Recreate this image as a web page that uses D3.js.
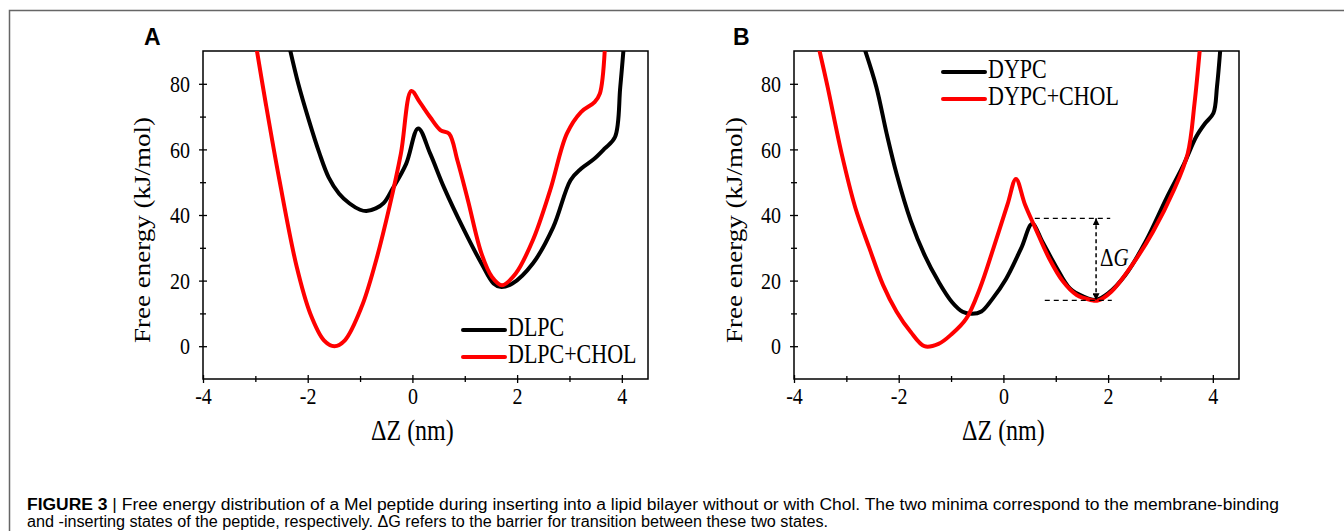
<!DOCTYPE html>
<html lang="en">
<head>
  <meta charset="UTF-8">
  <title>Figure 3</title>
  <style>
    body { margin: 0; background: #fff; }
    .serif { font-family: 'Liberation Serif', 'Times New Roman', serif; }
    .tick text { font-family: 'Liberation Serif', 'Times New Roman', serif; font-size: 20px; fill: #000; }
  </style>
</head>
<body>
  <svg width="1344" height="531"></svg>
  <script src="https://cdn.jsdelivr.net/npm/d3@7"></script>
  <script>
    // axis ticks
    var xTicks = [-4, -2, 0, 2, 4]
    var xMinor = [-3, -1, 1, 3]
    var yTicks = [0, 20, 40, 60, 80]
    var yMinor = [10, 30, 50, 70]

    // panel A series  [dZ (nm), free energy (kJ/mol)]
    var dlpc = [[-2.36, 92], [-2.18, 80], [-1.98, 69], [-1.78, 59], [-1.6, 51.5], [-1.4, 46.5], [-1.2, 43.5],
      [-1.0, 41.6], [-0.88, 41.2], [-0.7, 42], [-0.55, 43.6], [-0.38, 48], [-0.12, 55.6], [0.11, 66.4],
      [0.34, 58.7], [0.6, 48.5], [0.99, 35.3], [1.32, 25.2], [1.55, 19.1], [1.68, 18.1], [1.91, 19.1],
      [2.3, 25.2], [2.69, 36.3], [3.02, 50.6], [3.22, 54.1], [3.48, 57.2], [3.67, 60.2], [3.87, 63.8],
      [3.97, 79], [4.04, 92]]
    var dlpcChol = [[-2.99, 92], [-2.8, 73.9], [-2.54, 50.6], [-2.21, 24.2], [-1.95, 9.9], [-1.69, 1.8],
      [-1.49, 0], [-1.29, 1.8], [-0.97, 12], [-0.71, 25.2], [-0.44, 42.4], [-0.22, 58.7], [-0.02, 77.8],
      [0.14, 74.4], [0.34, 69.8], [0.54, 65.8], [0.7, 64.8], [0.86, 56.6], [1.06, 44.5], [1.32, 28.2],
      [1.52, 21.1], [1.71, 18.6], [1.97, 22.1], [2.3, 32.3], [2.63, 47.5], [2.95, 64.8], [3.22, 71.4],
      [3.48, 74.4], [3.58, 77], [3.68, 92]]

    // panel B series
    var dypc = [[-2.68, 92], [-2.43, 79.2], [-2.23, 64.8], [-2.04, 52.5], [-1.77, 38.2], [-1.51, 27.9],
      [-1.24, 19.7], [-0.98, 13.4], [-0.78, 10.5], [-0.6, 9.9], [-0.42, 10.6], [-0.22, 14.2], [0.05, 20.5],
      [0.34, 29.9], [0.55, 37.3], [0.74, 32], [1.0, 24.4], [1.27, 17.6], [1.53, 15.1], [1.76, 14.1],
      [2.0, 16.1], [2.33, 21.7], [2.72, 32], [3.12, 45.3], [3.45, 55.6], [3.68, 63.8], [3.85, 67.9],
      [4.01, 71], [4.08, 79.2], [4.15, 92]]
    var dypcChol = [[-3.54, 92], [-3.36, 79.2], [-3.09, 58.7], [-2.83, 42.3], [-2.56, 29.9], [-2.3, 18.7],
      [-2.04, 10.5], [-1.77, 4.3], [-1.51, 0], [-1.24, 0.7], [-0.98, 3.8], [-0.71, 8.4], [-0.45, 17.6],
      [-0.19, 29.9], [0.08, 43.3], [0.24, 51], [0.41, 43.3], [0.61, 36], [0.87, 26.9], [1.14, 19.7],
      [1.4, 15.6], [1.67, 14.1], [1.8, 13.9], [2.06, 16.6], [2.46, 24.8], [2.86, 35], [3.25, 47.4],
      [3.52, 58.7], [3.65, 74], [3.76, 92]]

    // barrier annotation in panel B
    var dgTop = 39, dgBottom = 14, dgX = 1.77

    var stretch = 1.2   // the original figure text is a bit tall
    var svg = d3.select('svg')

    // outer frame (top and left only)
    svg.append('path')
      .attr('d', 'M9.5,531V10.5H1344')
      .attr('fill', 'none')
      .attr('stroke', '#666')
      .attr('stroke-width', 1.5)

    var defs = svg.append('defs')
    defs.append('marker')
      .attr('id', 'arrow')
      .attr('viewBox', '0 0 10 10')
      .attr('refX', 10).attr('refY', 5)
      .attr('markerWidth', 7).attr('markerHeight', 7)
      .attr('markerUnits', 'userSpaceOnUse')
      .attr('orient', 'auto-start-reverse')
      .append('path')
      .attr('d', 'M0,0L10,5L0,10z')
      .attr('fill', '#000')

    function tallText(g, x, y, str, size, anchor) {
      return g.append('text')
        .attr('class', 'serif')
        .attr('transform', 'translate(' + x + ',' + y + ') scale(1,' + stretch + ')')
        .attr('font-size', size)
        .attr('text-anchor', anchor || 'start')
        .text(str)
    }

    function plain(d) { return String(d) }

    function drawPanel(p) {
      var x = d3.scaleLinear().domain([-4, 4.5]).range([p.left, p.right])
      var y = d3.scaleLinear().domain([-10, 90]).range([379, 51])
      var g = svg.append('g')

      defs.append('clipPath').attr('id', 'clip' + p.name)
        .append('rect')
        .attr('x', p.left).attr('y', 51)
        .attr('width', p.right - p.left).attr('height', 328)

      // minor ticks
      var minX = g.append('g').attr('transform', 'translate(0,379)')
        .call(d3.axisBottom(x).tickValues(xMinor).tickSize(3).tickFormat(''))
      minX.selectAll('line').attr('y1', -3)
      var minY = g.append('g').attr('transform', 'translate(' + p.left + ',0)')
        .call(d3.axisLeft(y).tickValues(yMinor).tickSize(3).tickFormat(''))
      minY.selectAll('line').attr('x1', 3)

      // major ticks
      var ax = g.append('g').attr('transform', 'translate(0,379)')
        .call(d3.axisBottom(x).tickValues(xTicks).tickSize(4).tickPadding(8).tickFormat(plain))
      ax.selectAll('line').attr('y1', -4)
      ax.selectAll('text')
        .attr('y', 0)
        .attr('transform', 'translate(0,8) scale(1,' + stretch + ')')
      var ay = g.append('g').attr('transform', 'translate(' + p.left + ',0)')
        .call(d3.axisLeft(y).tickValues(yTicks).tickSize(4).tickPadding(9).tickFormat(plain))
      ay.selectAll('line').attr('x1', 4)
      ay.selectAll('text').attr('transform', 'scale(1,' + stretch + ')')
      g.selectAll('.domain').remove()
      g.selectAll('.tick line').attr('stroke', '#000').attr('stroke-width', 1.3)

      // plot frame
      g.append('rect')
        .attr('x', p.left).attr('y', 51)
        .attr('width', p.right - p.left).attr('height', 328)
        .attr('fill', 'none').attr('stroke', '#000').attr('stroke-width', 1.5)

      var line = d3.line()
        .x(function(d) { return x(d[0]) })
        .y(function(d) { return y(d[1]) })
        .curve(d3.curveCatmullRom.alpha(0.5))

      var lines = g.append('g').attr('clip-path', 'url(#clip' + p.name + ')')
      p.series.forEach(function(s) {
        lines.append('path')
          .attr('d', line(s.data))
          .attr('fill', 'none')
          .attr('stroke', s.color)
          .attr('stroke-width', 4)
          .attr('stroke-linejoin', 'round')
      })

      // legend
      p.series.forEach(function(s, i) {
        var ly = p.legendY + i * 27
        g.append('line')
          .attr('x1', p.legendX).attr('x2', p.legendX + 42)
          .attr('y1', ly).attr('y2', ly)
          .attr('stroke', s.color).attr('stroke-width', 4)
          .attr('stroke-linecap', 'round')
        tallText(g, p.legendX + 45, ly + 6, s.name, 22)
      })

      // axis titles
      tallText(g, x(0), 440, '\u0394Z (nm)', 24, 'middle')
      g.append('text')
        .attr('class', 'serif')
        .attr('transform', 'translate(' + p.yLabelX + ',230) rotate(-90)')
        .attr('font-size', 24)
        .attr('text-anchor', 'middle')
        .attr('textLength', 226)
        .attr('lengthAdjust', 'spacingAndGlyphs')
        .text('Free energy (kJ/mol)')

      // panel letter
      g.append('text')
        .attr('x', p.letterX).attr('y', 45)
        .attr('font-family', 'Arial, Liberation Sans, sans-serif')
        .attr('font-weight', 'bold')
        .attr('font-size', 23)
        .text(p.name)

      return { g: g, x: x, y: y }
    }

    drawPanel({
      name: 'A', left: 203, right: 648, letterX: 144, yLabelX: 150,
      legendX: 463, legendY: 330,
      series: [{ name: 'DLPC', color: '#000', data: dlpc }, { name: 'DLPC+CHOL', color: '#ff0000', data: dlpcChol }]
    })

    var pb = drawPanel({
      name: 'B', left: 794, right: 1239, letterX: 733, yLabelX: 742,
      legendX: 943, legendY: 72,
      series: [{ name: 'DYPC', color: '#000', data: dypc }, { name: 'DYPC+CHOL', color: '#ff0000', data: dypcChol }]
    })

    // delta G annotation
    var dash = '5,4'
    pb.g.append('line')
      .attr('x1', pb.x(0.6)).attr('x2', pb.x(2.04))
      .attr('y1', pb.y(dgTop)).attr('y2', pb.y(dgTop))
      .attr('stroke', '#000').attr('stroke-width', 1.3).attr('stroke-dasharray', dash)
    pb.g.append('line')
      .attr('x1', pb.x(0.79)).attr('x2', pb.x(2.07))
      .attr('y1', pb.y(dgBottom)).attr('y2', pb.y(dgBottom))
      .attr('stroke', '#000').attr('stroke-width', 1.3).attr('stroke-dasharray', dash)
    pb.g.append('line')
      .attr('x1', pb.x(dgX)).attr('x2', pb.x(dgX))
      .attr('y1', pb.y(dgTop)).attr('y2', pb.y(dgBottom))
      .attr('stroke', '#000').attr('stroke-width', 1.5).attr('stroke-dasharray', '4,3')
      .attr('marker-start', 'url(#arrow)').attr('marker-end', 'url(#arrow)')
    var dgText = tallText(pb.g, pb.x(dgX) + 4, pb.y((dgTop + dgBottom) / 2) + 7, '', 21)
    dgText.append('tspan').text('\u0394')
    dgText.append('tspan').attr('font-style', 'italic').text('G')

    // caption
    var capFont = "'Liberation Sans Narrow', 'Liberation Sans', Arial, sans-serif"
    var cap1 = svg.append('text')
      .attr('x', 27).attr('y', 510)
      .attr('font-family', capFont)
      .attr('font-size', 16)
      .attr('textLength', 1252)
      .attr('lengthAdjust', 'spacingAndGlyphs')
    cap1.append('tspan').attr('font-weight', 'bold').text('FIGURE 3')
    cap1.append('tspan').text(' | Free energy distribution of a Mel peptide during inserting into a lipid bilayer without or with Chol. The two minima correspond to the membrane-binding')
    svg.append('text')
      .attr('x', 27).attr('y', 527)
      .attr('font-family', capFont)
      .attr('font-size', 16)
      .attr('textLength', 801)
      .attr('lengthAdjust', 'spacingAndGlyphs')
      .text('and -inserting states of the peptide, respectively. \u0394G refers to the barrier for transition between these two states.')
  </script>
</body>
</html>
